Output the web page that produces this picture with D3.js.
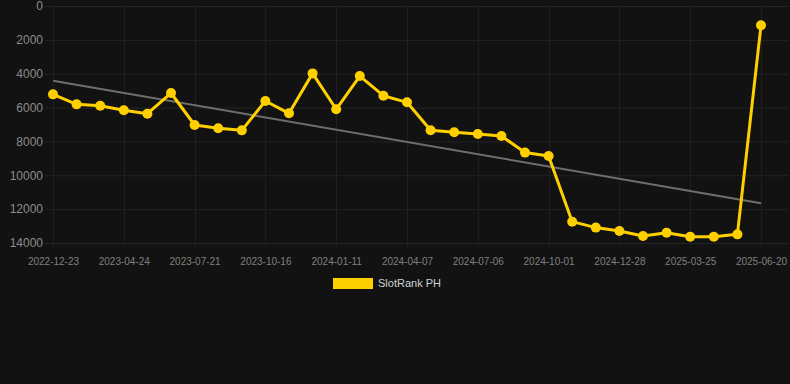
<!DOCTYPE html>
<html>
<head>
<meta charset="utf-8">
<script src="https://cdn.jsdelivr.net/npm/d3@7"></script>
<style>
  html, body { margin: 0; padding: 0; background: #121212; }
  svg { display: block; font-family: "Liberation Sans", Arial, sans-serif; }
</style>
</head>
<body>
<div id="chart"></div>
<script>
// dates of each ranking snapshot (only every third one is labelled)
const dates = [
  "2022-12-23", "2023-02-03", "2023-03-15", "2023-04-24", "2023-05-23", "2023-06-21",
  "2023-07-21", "2023-08-19", "2023-09-17", "2023-10-16", "2023-11-14", "2023-12-13",
  "2024-01-11", "2024-02-09", "2024-03-09", "2024-04-07", "2024-05-07", "2024-06-06",
  "2024-07-06", "2024-08-04", "2024-09-02", "2024-10-01", "2024-10-30", "2024-11-28",
  "2024-12-28", "2025-01-26", "2025-02-24", "2025-03-25", "2025-04-23", "2025-05-22",
  "2025-06-20"
];
const rankPH = [
  5220, 5810, 5890, 6160, 6360, 5140,
  7030, 7225, 7345, 5610, 6340, 3980,
  6100, 4140, 5300, 5690, 7340, 7460,
  7560, 7680, 8660, 8860, 12740, 13090,
  13290, 13590, 13390, 13630, 13630, 13490,
  1140
];
const yTicks = [0, 2000, 4000, 6000, 8000, 10000, 12000, 14000];
const xTickLabels = dates.filter((d, i) => i % 3 === 0);
const seriesName = "SlotRank PH";

const width = 790, height = 384;
const margin = { top: 6, right: 2, bottom: 141, left: 45 };
const yellow = "#ffd000";

const svg = d3.select("#chart").append("svg")
  .attr("width", width)
  .attr("height", height);

svg.append("rect").attr("width", width).attr("height", height).attr("fill", "#121212");

const x = d3.scalePoint().domain(dates).range([53, 761]);
const y = d3.scaleLinear().domain([0, 14000]).range([margin.top, height - margin.bottom]);

// horizontal grid
svg.append("g")
  .selectAll("line")
  .data(yTicks)
  .enter().append("line")
  .attr("x1", margin.left)
  .attr("x2", width - margin.right)
  .attr("y1", d => y(d) + 0.5)
  .attr("y2", d => y(d) + 0.5)
  .attr("stroke", "#242424");

// vertical grid
svg.append("g")
  .selectAll("line")
  .data(xTickLabels)
  .enter().append("line")
  .attr("x1", d => Math.round(x(d)) + 0.5)
  .attr("x2", d => Math.round(x(d)) + 0.5)
  .attr("y1", margin.top)
  .attr("y2", y(14000))
  .attr("stroke", "#1f1f1f");

// y axis labels
const yAxis = svg.append("g")
  .attr("transform", `translate(${margin.left - 2},0)`)
  .call(d3.axisLeft(y).tickValues(yTicks).tickSize(0).tickPadding(0).tickFormat(d3.format("d")));
yAxis.select(".domain").remove();
yAxis.selectAll("text").attr("fill", "#8c8c8c").attr("font-size", 12);

// x axis labels
const xAxis = svg.append("g")
  .attr("transform", `translate(0,${y(14000)})`)
  .call(d3.axisBottom(x).tickValues(xTickLabels).tickSize(6).tickPadding(9));
xAxis.select(".domain").remove();
xAxis.selectAll("line").attr("stroke", "#1f1f1f");
xAxis.selectAll("text").attr("fill", "#808080").attr("font-size", 10);

// linear trend (least squares)
const n = rankPH.length;
const mx = d3.mean(rankPH, (d, i) => i);
const my = d3.mean(rankPH);
const slope = d3.sum(rankPH, (d, i) => (i - mx) * (d - my)) / d3.sum(rankPH, (d, i) => (i - mx) * (i - mx));
const intercept = my - slope * mx;
svg.append("line")
  .attr("x1", x(dates[0]))
  .attr("y1", y(intercept))
  .attr("x2", x(dates[n - 1]))
  .attr("y2", y(intercept + slope * (n - 1)))
  .attr("stroke", "#6e6e6e")
  .attr("stroke-width", 2);

// series line
const line = d3.line()
  .x((d, i) => x(dates[i]))
  .y(d => y(d));

svg.append("path")
  .datum(rankPH)
  .attr("d", line)
  .attr("fill", "none")
  .attr("stroke", yellow)
  .attr("stroke-width", 3)
  .attr("stroke-linejoin", "round");

svg.append("g")
  .selectAll("circle")
  .data(rankPH)
  .enter().append("circle")
  .attr("cx", (d, i) => x(dates[i]))
  .attr("cy", d => y(d))
  .attr("r", 5)
  .attr("fill", yellow);

// legend
const legend = svg.append("g").attr("transform", "translate(333,278)");
legend.append("rect")
  .attr("width", 40)
  .attr("height", 11)
  .attr("fill", yellow);
legend.append("text")
  .attr("x", 45)
  .attr("y", 5.5)
  .attr("dy", "0.35em")
  .attr("fill", "#d0d0d0")
  .attr("font-size", 11)
  .text(seriesName);
</script>
</body>
</html>
